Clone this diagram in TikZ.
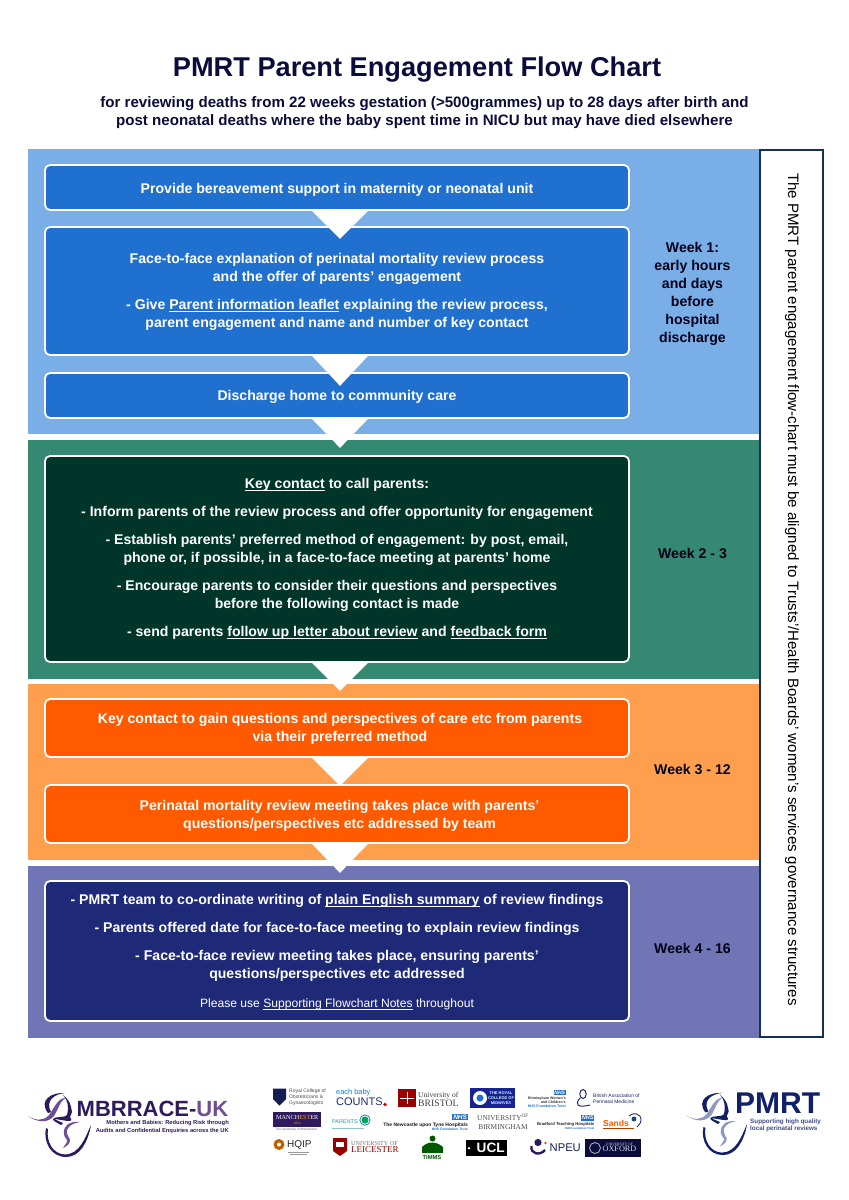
\documentclass[tikz,border=0pt]{standalone}
\usepackage{fontspec}
\setmainfont{Liberation Sans}
\newfontfamily\srf{Liberation Serif}
\usetikzlibrary{calc}
\definecolor{bandA}{HTML}{7AAEE6}\definecolor{boxA}{HTML}{2070D0}
\definecolor{bandB}{HTML}{358872}\definecolor{boxB}{HTML}{00352A}
\definecolor{bandC}{HTML}{FF9E4C}\definecolor{boxC}{HTML}{FF5A00}
\definecolor{bandD}{HTML}{7075B5}\definecolor{boxD}{HTML}{1E2A78}
\definecolor{ink}{HTML}{0C0C3C}\definecolor{sidenavy}{HTML}{14305C}
\definecolor{mbdark}{HTML}{2E1A5C}\definecolor{mblight}{HTML}{6F4E96}
\definecolor{pmdark}{HTML}{12206A}\definecolor{pmlight}{HTML}{8F97C4}
\newsavebox\ulbox
\newcommand{\uln}[1]{\sbox\ulbox{#1}\rlap{\rule[-2pt]{\wd\ulbox}{.8pt}}\usebox\ulbox}
\newcommand{\topstrut}[1]{\rule{0pt}{#1pt}}
\newcommand{\logofig}[5]{%
 \begin{scope}[shift={(#1,#2)},x=#3pt,y=-#3pt,line cap=round]
  \fill[#5] (20,21) .. controls (10,8) and (24,0) .. (37,1) .. controls (26,2) and (17,9) .. (23,20) -- cycle;
  \fill[#5] (35,3) .. controls (44,10) and (43,17) .. (44,20) -- (42,25) .. controls (42,26) and (45,28) .. (42,29) .. controls (36,29) and (30,27) .. (26,27) -- (35,31) -- (33,33) .. controls (28,30) and (25,29) .. (25,27) .. controls (26,24) and (38,26) .. (39,23) .. controls (41,15) and (40,8) .. (35,3) -- cycle;
  \fill[#4] (0,24) .. controls (10,31) and (20,31) .. (26,24) .. controls (30,18) and (33,6) .. (39,6) .. controls (30,5) and (27,15) .. (21,23) .. controls (16,29) and (8,29) .. (0,24) -- cycle;
  \fill[#5] (18,36) .. controls (15,50) and (23,65) .. (38,65) .. controls (52,65) and (60,50) .. (63,33) .. controls (57,46) and (52,62) .. (37,62.5) .. controls (25,62) and (18,50) .. (20,37) -- cycle;
  \fill[#4] (52,30) .. controls (42,29) and (35,33) .. (36,42) .. controls (36,46) and (40,47) .. (39,50) -- (35,56) .. controls (39,54) and (42,52) .. (42,48) .. controls (41,45) and (38,42) .. (39,38) .. controls (41,33) and (46,31) .. (52,30) -- cycle;
 \end{scope}}
\tikzset{
 x=1pt,y=-1pt,
 flowbox/.style={draw=white,line width=1.8pt,rounded corners=5pt,minimum width=584pt,inner sep=0pt,text=white,align=center,font=\fontsize{14.1}{18}\selectfont\bfseries},
 wk/.style={font=\fontsize{14.1}{18}\selectfont\bfseries,align=center,text=black!90!blue},
 pointer/.style={fill=white},
 lg/.style={inner sep=0pt,align=left,anchor=west},
 nhs/.style={fill=boxA,inner sep=.8pt,text=white,anchor=east},
}
\begin{document}
\begin{tikzpicture}
\useasboundingbox (0,0) rectangle (849,1200);
\fill[white] (0,0) rectangle (849,1200);
\fill[bandA] (28,149) rectangle (760,434);
\fill[bandB] (28,440) rectangle (760,679);
\fill[bandC] (28,684) rectangle (760,860);
\fill[bandD] (28,866) rectangle (760,1038);
\node[text=ink,font=\fontsize{27.2}{32}\selectfont\bfseries,inner sep=0pt] (title) at (417,70) {PMRT Parent Engagement Flow Chart};
\node[text=ink,font=\fontsize{15.1}{18}\selectfont\bfseries,align=center,inner sep=0pt] (sub) at (424.5,113) {for reviewing deaths from 22 weeks gestation (>500grammes) up to 28 days after birth and\\post neonatal deaths where the baby spent time in NICU but may have died elsewhere};
\node[draw=sidenavy,line width=1.8pt,fill=white,minimum width=63pt,minimum height=887pt,inner sep=0pt] (side) at (791.5,593.5) {};
\node[rotate=-90,font=\fontsize{15.08}{18}\selectfont,text=black,inner sep=0pt] (sidetext) at (792,589.5) {The PMRT parent engagement flow-chart must be aligned to Trusts'/Health Boards' women's services governance structures};
\node[flowbox,fill=boxA,minimum height=45pt] (b1) at (337,187.5) {\topstrut{14.3}Provide bereavement support in maternity or neonatal unit};
\node[flowbox,fill=boxA,minimum height=128pt] (b2) at (337,291) {\topstrut{12.3}Face-to-face explanation of perinatal mortality review process\\and the offer of parents' engagement\\[10pt]- Give \uln{Parent information leaflet} explaining the review process,\\parent engagement and name and number of key contact};
\node[flowbox,fill=boxA,minimum height=45pt] (b3) at (337,395.5) {\topstrut{12.7}Discharge home to community care};
\node[flowbox,fill=boxB,minimum height=206pt] (b4) at (337,559) {\uln{Key contact} to call parents:\\[10pt]- Inform parents of the review process and offer opportunity for engagement\\[10pt]- Establish parents' preferred method of engagement: by post, email,\\phone or, if possible, in a face-to-face meeting at parents' home\\[10pt]- Encourage parents to consider their questions and perspectives\\before the following contact is made\\[10pt]- send parents \uln{follow up letter about review} and \uln{feedback form}};
\node[flowbox,fill=boxC,minimum height=58pt] (b5) at (337,728) {\topstrut{11.3}\hspace*{6pt}Key contact to gain questions and perspectives of care etc from parents\\\hspace*{6pt}via their preferred method};
\node[flowbox,fill=boxC,minimum height=58pt] (b6) at (337,814) {\topstrut{13.3}\hspace*{5pt}Perinatal mortality review meeting takes place with parents'\\\hspace*{5pt}questions/perspectives etc addressed by team};
\node[flowbox,fill=boxD,minimum height=140pt] (b7) at (337,951) {\topstrut{13.3}- PMRT team to co-ordinate writing of \uln{plain English summary} of review findings\\[10pt]- Parents offered date for face-to-face meeting to explain review findings\\[10pt]- Face-to-face review meeting takes place, ensuring parents'\\questions/perspectives etc addressed\\[11pt]{\fontsize{12.1}{16}\selectfont\mdseries Please use \uln{Supporting Flowchart Notes} throughout}};
\foreach \s/\d in {b1/28,b2/30,b3/29,b4/28,b5/28,b6/29}{
 \fill[pointer] ($(\s.south)+(-25,0)$) -- ($(\s.south)+(31,0)$) -- ($(\s.south)+(3,\d)$) -- cycle;
}
\node[wk] (w1) at (692.5,294) {Week 1:\\early hours\\and days\\before\\hospital\\discharge};
\node[wk] (w2) at (692.5,553) {Week 2 - 3};
\node[wk] (w3) at (692.5,769) {Week 3 - 12};
\node[wk] (w4) at (692.5,948) {Week 4 - 16};
% MBRRACE
\logofig{28}{1092}{1}{mblight}{mbdark}
\node[lg,text=mbdark,font=\fontsize{22}{24}\selectfont\bfseries] (mb) at (76.5,1108.5) {MBRRACE-\textcolor{mblight}{UK}};
\node[inner sep=0pt,align=right,anchor=east,text=mbdark,font=\fontsize{5.77}{7.6}\selectfont\bfseries] (mbs) at (229,1127) {Mothers and Babies: Reducing Risk through\\Audits and Confidential Enquiries across the UK};
% PMRT
\logofig{686}{1092}{.97}{pmlight}{pmdark}
\node[lg,text=pmdark,font=\fontsize{30}{32}\selectfont\bfseries] (pm) at (735,1103) {PMRT};
\node[lg,text=pmdark!80!white,font=\fontsize{6.3}{7.2}\selectfont\bfseries] (pms) at (750,1125.5) {Supporting high quality\\local perinatal reviews};
% row 1
\fill[boxD!70!black] (273,1088.5) -- (286,1088.5) -- (286,1099) -- (279.5,1105.5) -- (273,1099) -- cycle;
\node[lg,text=black!70,font=\fontsize{5}{5.9}\selectfont] (rcog) at (289,1097) {Royal College of\\Obstetricians \&\\Gynaecologists};
\node[lg,text=blue!45!cyan!90!black,font=\fontsize{7.4}{8}\selectfont] (ebc1) at (336,1093) {each baby};
\node[lg,text=boxD,font=\fontsize{11}{11}\selectfont] (ebc2) at (336,1102) {COUNTS};
\fill[red!85!black] (385,1104.5) circle (1.8pt);
\fill[red!60!black] (398,1089) rectangle (416,1107);
\draw[white,line width=.8pt] (407,1092) -- (407,1104) (400,1098) -- (414,1098);
\node[lg,text=black!75,font=\srf\fontsize{7.6}{7}\selectfont] (bris) at (418,1099) {University of\\\fontsize{9.7}{7}\selectfont BRISTOL};
\node[fill=boxD!80!blue,minimum width=45pt,minimum height=20pt,inner sep=0pt,anchor=north west] (rcmbg) at (470,1088) {};
\fill[white] (480,1098) circle (7pt);
\fill[boxA] (480,1098) circle (3.5pt);
\node[inner sep=0pt,align=center,text=white!80!cyan,font=\fontsize{4}{5}\selectfont\bfseries] (rcm) at (501,1098) {THE ROYAL\\COLLEGE OF\\MIDWIVES};
\node[nhs,font=\fontsize{5}{5}\selectfont\bfseries\itshape] (nhs1) at (566,1092.5) {NHS};
\node[inner sep=0pt,align=right,anchor=east,text=black!80,font=\fontsize{3.6}{4.2}\selectfont\bfseries] (bwc) at (566,1102) {Birmingham Women's\\and Children's\\\textcolor{boxA}{NHS Foundation Trust}};
\draw[boxD,line width=1pt] (583,1094) ellipse (3.2pt and 4.5pt) (580,1098) .. controls (574,1105) and (578,1108) .. (590,1105);
\node[lg,text=boxD!85!black,font=\fontsize{5}{6}\selectfont] (bapm) at (593,1099) {British Association of\\Perinatal Medicine};
% row 2
\node[fill=mbdark,minimum width=48pt,minimum height=15pt,inner sep=0pt,anchor=north west,text=white,align=center,font=\srf\fontsize{6.2}{5.5}\selectfont] (mcr) at (273,1112) {MANCH\textcolor{orange!80!yellow}{EST}ER\\[-1pt]\textcolor{orange!80!yellow}{\fontsize{3.5}{3.5}\selectfont 1824}};
\node[inner sep=0pt,text=black!60,font=\fontsize{3.2}{4}\selectfont] (mcrs) at (296.5,1130) {The University of Manchester};
\node[lg,text=teal!80!white,font=\fontsize{5.5}{5.5}\selectfont] (par) at (332,1122) {PARENTS};
\fill[teal!70!green] (365,1120) circle (3.6pt);
\draw[boxA!80!teal,line width=.7pt] (365,1120) circle (5.2pt);
\fill[teal!45!white] (332,1127.5) rectangle (364,1129);
\node[inner sep=0pt,anchor=east,text=black!90,font=\fontsize{4.97}{6}\selectfont\bfseries] (ncl) at (468,1125) {The Newcastle upon Tyne Hospitals};
\node[inner sep=0pt,anchor=east,text=boxA,font=\fontsize{3.4}{4}\selectfont\bfseries] (ncl2) at (468,1129.5) {NHS Foundation Trust};
\node[nhs,font=\fontsize{6.5}{6.5}\selectfont\bfseries\itshape] (nhs2) at (468,1117) {NHS};
\node[align=center,inner sep=0pt,text=black!70,font=\srf\fontsize{7.4}{8.5}\selectfont] (ubham) at (503,1122) {UNIVERSITY\textsuperscript{OF}\\BIRMINGHAM};
\node[nhs,font=\fontsize{5.5}{5.5}\selectfont\bfseries\itshape] (nhs3) at (594.5,1118) {NHS};
\node[inner sep=0pt,anchor=east,text=black!85,font=\fontsize{4.2}{5}\selectfont\bfseries] (brad) at (594.5,1124.5) {Bradford Teaching Hospitals};
\node[inner sep=0pt,anchor=east,text=boxA,font=\fontsize{2.8}{3}\selectfont\bfseries] (brad2) at (594.5,1128.5) {NHS Foundation Trust};
\node[lg,text=boxC,font=\fontsize{8.6}{9}\selectfont\bfseries] (sands) at (603,1123) {Sands};
\draw[boxD,line width=.9pt] (629,1116) .. controls (633,1112) and (641,1113) .. (641,1120) .. controls (641,1124) and (638,1125) .. (637,1127);
\fill[boxA!60!black] (634,1119) circle (2.4pt);
\fill[boxC!70!black] (603,1128) rectangle (634,1129.2);
% row 3
\fill[orange!75!black] (279,1144.5) circle (5.5pt); \fill[white] (279,1144.5) circle (2pt);
\node[lg,text=black!85,font=\fontsize{10}{10}\selectfont] (hqip) at (287,1144.5) {HQIP};
\fill[black!40] (288,1152) rectangle (309,1153.2);
\fill[black!40] (290,1154) rectangle (307,1155.2);
\fill[red!60!black] (333,1138) -- (347,1138) -- (347,1151) -- (340,1156) -- (333,1151) -- cycle;
\fill[white] (336,1142) rectangle (344,1147);
\node[lg,text=black!55,font=\srf\fontsize{6.2}{7}\selectfont] (lei1) at (351,1143) {UNIVERSITY OF};
\node[lg,text=red!60!black,font=\srf\fontsize{9}{9}\selectfont] (lei2) at (351,1150) {LEICESTER};
\fill[green!35!black] (432.5,1138.5) circle (3pt);
\fill[green!35!black] (422,1147) .. controls (428,1141) and (436,1141) .. (443,1147) -- (443,1153) -- (422,1153) -- cycle;
\node[inner sep=0pt,text=green!35!black,font=\fontsize{5.8}{6}\selectfont\bfseries] (timms) at (432,1157.5) {TIMMS};
\node[fill=black,minimum width=41pt,minimum height=15.5pt,inner sep=0pt,anchor=north west,text=white,font=\fontsize{13.6}{14}\selectfont\bfseries] (ucl) at (466,1140) {\hspace*{8pt}UCL};
\fill[white] (467.5,1149) -- (470.5,1149) -- (469,1146.5) -- cycle;
\fill[mbdark] (538,1142.5) circle (3.6pt);
\draw[mbdark,line width=2.4pt] (531.5,1146) .. controls (530,1154) and (540,1156) .. (545,1150);
\fill[orange!80!black] (545.5,1143) circle (1.3pt);
\node[lg,text=boxD!70!black,font=\fontsize{11.2}{11}\selectfont] (npeu) at (549.5,1148) {NPEU};
\node[fill=ink,minimum width=56pt,minimum height=18.5pt,inner sep=0pt,anchor=north west] (oxbg) at (585,1138.5) {};
\draw[white!70!ink,line width=.8pt] (595,1148) circle (5.5pt);
\node[inner sep=0pt,align=center,text=white!85!ink,font=\srf\fontsize{8.2}{6.2}\selectfont] (ox) at (619.5,1147.5) {{\fontsize{3.6}{4}\selectfont UNIVERSITY OF}\\OXFORD};
\end{tikzpicture}
\end{document}
